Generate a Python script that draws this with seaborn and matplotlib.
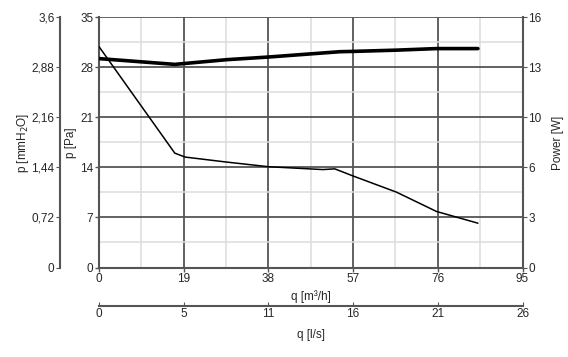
import numpy as np
import pandas as pd
import seaborn as sns
import matplotlib.pyplot as plt
from matplotlib.ticker import FixedLocator, MultipleLocator

# flow in m3/h, pressure in Pa, power in W
q_pressure = [0, 17.0, 19.3, 28.6, 38, 50.2, 52.9, 57, 66.7, 75.7, 85]
pressure_pa = [30.9, 16.0, 15.45, 14.75, 14.1, 13.7, 13.8, 12.8, 10.55, 7.84, 6.2]

q_power = [0, 17.0, 28.6, 38, 54, 57, 66.7, 75.7, 85]
power_w = [13.36, 12.99, 13.29, 13.46, 13.8, 13.82, 13.9, 14.0, 14.0]

q_ticks = [0, 19, 38, 57, 76, 95]
pa_ticks = [0, 7, 14, 21, 28, 35]
mmh2o_labels = ['0', '0,72', '1,44', '2,16', '2,88', '3,6']
power_labels = ['0', '3', '6', '10', '13', '16']
ls_labels = ['0', '5', '11', '16', '21', '26']

sns.set_style('white')
plt.rcParams['font.family'] = ['Liberation Sans', 'DejaVu Sans']
plt.rcParams['font.size'] = 8.5

fig = plt.figure(figsize=(5.68, 3.57), dpi=100)
ax = fig.add_axes([0.1743, 0.2507, 0.9199 - 0.1743, 0.9515 - 0.2507])

dark = '#555555'
light = '#dddddd'

df_p = pd.DataFrame({'q': q_pressure, 'p': pressure_pa})
sns.lineplot(data=df_p, x='q', y='p', ax=ax, color='black', linewidth=1.1, zorder=5)

ax.set_xlim(0, 95)
ax.set_ylim(0, 35)
ax.xaxis.set_major_locator(FixedLocator(q_ticks))
ax.yaxis.set_major_locator(FixedLocator(pa_ticks))
ax.xaxis.set_minor_locator(MultipleLocator(9.5))
ax.yaxis.set_minor_locator(MultipleLocator(3.5))
ax.grid(which='minor', color=light, linewidth=1.1, zorder=0)
ax.grid(which='major', color=dark, linewidth=1.3, zorder=1)
ax.set_axisbelow(True)
ax.tick_params(which='major', direction='out', length=3, width=1, color=dark, pad=1, labelsize=8.5)
ax.tick_params(which='minor', length=0)
ax.set_xlabel('q [m³/h]', fontsize=8.5, labelpad=4)
ax.set_ylabel('p [Pa]', fontsize=8.5, labelpad=2)
for s in ['top', 'right']:
    ax.spines[s].set_visible(False)
for s in ['left', 'bottom']:
    ax.spines[s].set_color(dark)
    ax.spines[s].set_linewidth(1.5)

# power axis on the right
axw = ax.twinx()
df_w = pd.DataFrame({'q': q_power, 'w': power_w})
sns.lineplot(data=df_w, x='q', y='w', ax=axw, color='black', linewidth=2.6)
axw.set_ylim(0, 16)
axw.set_yticks(np.linspace(0, 16, 6))
axw.set_yticklabels(power_labels)
axw.set_ylabel('Power [W]', fontsize=8.5, labelpad=8)
axw.tick_params(direction='out', length=3, color=dark, pad=1, labelsize=8.5)
for s in ['top', 'left', 'bottom']:
    axw.spines[s].set_visible(False)
axw.spines['right'].set_color(dark)
axw.spines['right'].set_linewidth(1.5)

# mmH2O axis further left
axm = ax.twinx()
axm.set_ylim(0, 3.6)
axm.set_yticks(np.linspace(0, 3.6, 6))
axm.set_yticklabels(mmh2o_labels)
axm.yaxis.set_ticks_position('left')
axm.yaxis.set_label_position('left')
axm.spines['left'].set_position(('axes', -0.092))
axm.spines['left'].set_visible(True)
axm.spines['left'].set_color(dark)
axm.spines['left'].set_linewidth(1.5)
for s in ['top', 'right', 'bottom']:
    axm.spines[s].set_visible(False)
axm.tick_params(direction='out', length=3, color=dark, pad=1, labelsize=8.5)
axm.set_ylabel('p [mmH$_2$O]', fontsize=8.5, labelpad=0)

# l/s axis below
axl = ax.twiny()
axl.set_xlim(0, 95 / 3.6)
axl.set_xticks(np.linspace(0, 95 / 3.6, 6))
axl.set_xticklabels(ls_labels)
axl.xaxis.set_ticks_position('bottom')
axl.xaxis.set_label_position('bottom')
axl.spines['bottom'].set_position(('axes', -0.152))
axl.spines['bottom'].set_visible(True)
axl.spines['bottom'].set_color(dark)
axl.spines['bottom'].set_linewidth(1.5)
for s in ['top', 'right', 'left']:
    axl.spines[s].set_visible(False)
axl.tick_params(direction='in', length=3, color=dark, pad=2, labelsize=8.5)
axl.set_xlabel('q [l/s]', fontsize=8.5, labelpad=6)

fig.savefig('out.png', dpi=100)
